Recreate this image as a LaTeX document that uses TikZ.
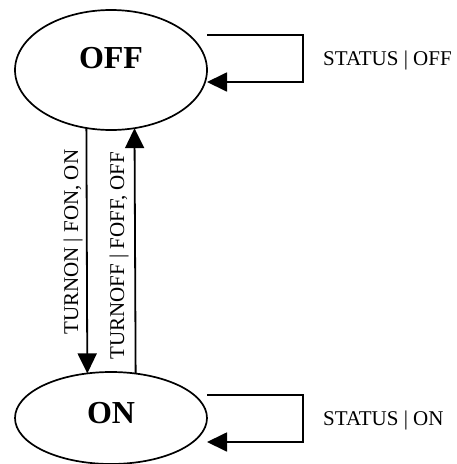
\documentclass[tikz,border=0pt]{standalone}
\usepackage{fontspec}
\setmainfont{Liberation Serif}
\usetikzlibrary{arrows.meta,shapes.geometric}

\tikzset{
  stateshape/.style={draw, ellipse, line width=1.7pt, inner sep=0pt, outer sep=0pt},
  statename/.style={anchor=base, inner sep=0pt, font=\fontsize{32}{36}\selectfont\bfseries},
  trans/.style={line width=1.8pt, -{Triangle[length=20pt,width=19pt]}},
  translabel/.style={inner sep=0pt, font=\fontsize{21}{25}\selectfont},
}

\begin{document}
\begin{tikzpicture}[x=1pt,y=-1pt]
  \useasboundingbox (0,0) rectangle (457,464);
  \begin{scope}
    \clip (0,0) rectangle (457,464);

    % the two states
    \node[stateshape, minimum width=192pt, minimum height=120pt] (off) at (111,70) {};
    \node[stateshape, minimum width=192pt, minimum height=92pt] (on) at (111,418) {};
    \node[statename] (offname) at (111,68) {OFF};
    \node[statename] (onname) at (111,423) {ON};

    % transitions between the states
    \draw[trans] (off.247.56) -- (on.118.32);
    \draw[trans] (on.61.68) -- (off.292.44);
    \node[translabel, rotate=90, anchor=base west] (lbldown) at (78,335) {TURNON | FON, ON};
    \node[translabel, rotate=90, anchor=base west] (lblup) at (124,360) {TURNOFF | FOFF, OFF};

    % self loops
    \draw[trans] ([yshift=35pt]off.east) -- ++(96,0) |- ([yshift=-12pt]off.east);
    \draw[trans] ([yshift=23pt]on.east) -- ++(96,0) |- ([yshift=-24pt]on.east);
    \node[translabel, anchor=base west] (lbloff) at (323,65) {STATUS | OFF};
    \node[translabel, anchor=base west] (lblon) at (323,425) {STATUS | ON};
  \end{scope}
\end{tikzpicture}
\end{document}
